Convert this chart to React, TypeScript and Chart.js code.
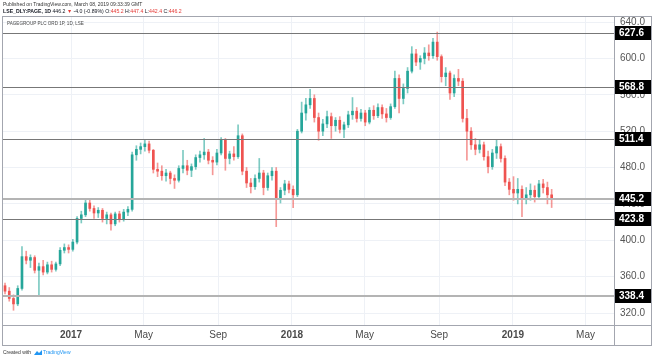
import React, { useEffect, useRef } from 'react';
import { Chart, registerables } from 'chart.js';

Chart.register(...registerables);

// ---- DATA ----
const firstWeek = '2016-09-12';
const opens: number[] = [
  350, 344, 336, 330, 347, 382, 378, 381, 367, 371, 365, 373, 368, 374, 389, 392, 390, 398, 424, 428,
  441, 435, 430, 433, 424, 428, 418, 429, 423, 431, 434, 494, 500, 503, 506, 499, 478, 476, 471, 474,
  468, 466, 479, 482, 477, 481, 491, 494, 497, 488, 486, 496, 510, 490, 495, 492, 515, 476, 463, 459,
  468, 474, 458, 471, 476, 445, 455, 462, 456, 450, 520, 540, 549, 556, 535, 520, 528, 536, 526, 532,
  522, 527, 538, 542, 534, 540, 530, 543, 537, 546, 539, 535, 547, 578, 556, 567, 586, 605, 596, 600,
  606, 603, 618, 602, 580, 584, 562, 578, 575, 534, 520, 505, 500, 505, 492, 481, 496, 503, 490, 464,
  456, 452, 456, 446, 450, 455, 448, 462, 458, 450,
];
const highs: number[] = [
  353, 348, 340, 350, 393, 388, 384, 383, 375, 378, 376, 377, 376, 392, 396, 395, 401, 426, 432, 445,
  444, 438, 436, 435, 431, 430, 431, 432, 434, 437, 497, 504, 507, 510, 509, 500, 485, 482, 478, 476,
  472, 482, 499, 488, 484, 494, 498, 512, 500, 492, 500, 513, 512, 498, 503, 527, 517, 480, 468, 472,
  490, 477, 474, 480, 480, 458, 466, 465, 460, 522, 552, 556, 566, 560, 540, 533, 542, 540, 535, 536,
  530, 542, 557, 546, 544, 543, 546, 548, 550, 549, 545, 550, 586, 582, 572, 590, 613, 610, 603, 612,
  615, 622, 629, 604, 590, 586, 582, 588, 578, 544, 524, 512, 510, 508, 498, 500, 510, 506, 493, 468,
  470, 468, 460, 458, 462, 460, 466, 467, 464, 456,
];
const lows: number[] = [
  341, 333, 323, 328, 345, 374, 370, 364, 340, 362, 363, 365, 366, 372, 386, 386, 388, 396, 419, 426,
  432, 424, 425, 420, 418, 411, 416, 420, 421, 427, 432, 488, 495, 498, 496, 474, 470, 466, 465, 462,
  457, 464, 474, 472, 470, 478, 486, 489, 484, 472, 483, 494, 477, 484, 488, 490, 472, 458, 452, 456,
  464, 450, 455, 466, 415, 441, 450, 452, 436, 448, 518, 532, 545, 530, 510, 515, 524, 512, 520, 518,
  513, 524, 533, 530, 531, 526, 528, 533, 535, 534, 530, 533, 545, 540, 550, 562, 584, 592, 588, 594,
  598, 600, 598, 574, 570, 555, 558, 570, 530, 488, 500, 494, 496, 488, 474, 478, 490, 486, 460, 450,
  444, 440, 426, 440, 444, 442, 446, 452, 440, 436,
];
const closes: number[] = [
  344, 336, 330, 347, 382, 378, 381, 367, 371, 365, 373, 368, 374, 389, 392, 390, 398, 424, 428, 441,
  435, 430, 433, 424, 428, 418, 429, 423, 431, 434, 494, 500, 503, 506, 499, 478, 476, 471, 474, 468,
  466, 479, 482, 477, 481, 491, 494, 497, 488, 486, 496, 510, 490, 495, 492, 515, 476, 463, 459, 468,
  474, 458, 471, 476, 445, 455, 462, 456, 450, 520, 540, 549, 556, 535, 520, 528, 536, 526, 532, 522,
  527, 538, 542, 534, 540, 530, 543, 537, 546, 539, 535, 547, 578, 556, 567, 586, 605, 596, 600, 606,
  603, 618, 602, 580, 584, 562, 578, 575, 534, 520, 505, 500, 505, 492, 481, 496, 503, 490, 464, 456,
  452, 456, 446, 450, 455, 448, 462, 458, 450, 446.2,
];
const priceLevels: number[] = [627.6, 568.8, 511.4, 445.2, 423.8, 338.4];
const levelStyles: string[] = ['dark', 'dark', 'dark', 'light', 'dark', 'light'];
const yTicks: number[] = [320, 360, 400, 440, 480, 520, 560, 600, 640];
const xTickDates: string[] = ['2017-01-01', '2017-05-01', '2017-09-01', '2018-01-01', '2018-05-01', '2018-09-01', '2019-01-01', '2019-05-01'];
const xTickLabels: string[] = ['2017', 'May', 'Sep', '2018', 'May', 'Sep', '2019', 'May'];

// ---- helpers ----
const BASE = Date.UTC(2017, 0, 1);
const dayOf = (s: string) => {
  const [y, m, d] = s.split('-').map(Number);
  return (Date.UTC(y, m - 1, d) - BASE) / 86400000;
};
const firstDay = dayOf(firstWeek);
const candleX = opens.map((_, i) => firstDay + i * 7 + 2);
const xTickDays = xTickDates.map(dayOf);

const GREEN = '#26a69a';
const RED = '#ef5350';
const FONT = "'Liberation Sans', Arial, sans-serif";

const framePlugin = {
  id: 'tvFrame',
  afterDatasetsDraw(chart: any) {
    const { ctx, chartArea, scales } = chart;
    const y = scales.y;
    ctx.save();
    priceLevels.forEach((v, i) => {
      const py = Math.round(y.getPixelForValue(v));
      if (levelStyles[i] === 'light') {
        ctx.strokeStyle = '#b4b4b4';
        ctx.lineWidth = 2;
        ctx.beginPath();
        ctx.moveTo(chartArea.left, py);
        ctx.lineTo(chartArea.right, py);
        ctx.stroke();
      } else {
        ctx.strokeStyle = '#777777';
        ctx.lineWidth = 1;
        ctx.beginPath();
        ctx.moveTo(chartArea.left, py + 0.5);
        ctx.lineTo(chartArea.right, py + 0.5);
        ctx.stroke();
      }
    });
    ctx.restore();
  },
  afterDraw(chart: any) {
    const { ctx, chartArea, scales } = chart;
    const y = scales.y;
    ctx.save();
    // frame
    ctx.strokeStyle = '#a3a6af';
    ctx.lineWidth = 1;
    const L = 2.5, T = 16.5, R = 651.5, B = 345.5;
    ctx.strokeRect(L, T, R - L, B - T);
    ctx.beginPath();
    ctx.moveTo(Math.round(chartArea.right) + 0.5, T);
    ctx.lineTo(Math.round(chartArea.right) + 0.5, B);
    ctx.moveTo(L, Math.round(chartArea.bottom) + 0.5);
    ctx.lineTo(R, Math.round(chartArea.bottom) + 0.5);
    ctx.stroke();

    // price label boxes
    priceLevels.forEach((v) => {
      const py = Math.round(y.getPixelForValue(v));
      ctx.fillStyle = '#000000';
      ctx.fillRect(Math.round(chartArea.right) + 1, py - 7, 36, 14);
      ctx.fillStyle = '#ffffff';
      ctx.font = `bold 10px ${FONT}`;
      ctx.textBaseline = 'middle';
      ctx.textAlign = 'left';
      ctx.fillText(v.toFixed(1), Math.round(chartArea.right) + 5, py + 0.5);
    });

    // header
    ctx.textBaseline = 'middle';
    ctx.textAlign = 'left';
    ctx.fillStyle = '#333333';
    ctx.font = `5px ${FONT}`;
    ctx.fillText('Published on TradingView.com, March 08, 2019 09:33:39 GMT', 3, 5);

    const segs: [string, string, boolean][] = [
      ['LSE_DLY:PAGE, 1D ', '#131722', true],
      ['446.2 ', '#131722', false],
      ['\u25BC', '#e53935', false],
      [' -4.0 (-0.89%) O:', '#131722', false],
      ['445.2', '#e53935', false],
      [' H:', '#131722', false],
      ['447.4', '#e53935', false],
      [' L:', '#131722', false],
      ['442.4', '#e53935', false],
      [' C:', '#131722', false],
      ['446.2', '#e53935', false],
    ];
    let cx = 3;
    segs.forEach(([t, c, b]) => {
      ctx.font = `${b ? 'bold ' : ''}5.2px ${FONT}`;
      ctx.fillStyle = c;
      ctx.fillText(t, cx, 12);
      cx += ctx.measureText(t).width;
    });

    ctx.fillStyle = '#4a4a4a';
    ctx.font = `4.6px ${FONT}`;
    ctx.fillText('PAGEGROUP PLC ORD 1P, 1D, LSE', 7, 24);

    // footer
    ctx.fillStyle = '#333333';
    ctx.font = `5px ${FONT}`;
    ctx.fillText('Created with', 3, 353);
    ctx.fillStyle = '#2196f3';
    ctx.beginPath();
    ctx.moveTo(34, 355);
    ctx.lineTo(37, 351);
    ctx.lineTo(39, 353);
    ctx.lineTo(42, 350);
    ctx.lineTo(42, 355);
    ctx.closePath();
    ctx.fill();
    ctx.fillText('TradingView', 43, 353);
    ctx.restore();
  },
};

export default function App() {
  const ref = useRef<HTMLCanvasElement | null>(null);
  useEffect(() => {
    document.body.style.margin = '0';
    const canvas = ref.current;
    if (!canvas) return;
    const up = closes.map((c, i) => c >= opens[i]);
    const chart = new Chart(canvas, {
      type: 'bar',
      data: {
        datasets: [
          {
            label: 'wick',
            data: candleX.map((x, i) => ({ x, y: [lows[i], highs[i]] })) as any,
            backgroundColor: up.map((u) => (u ? 'rgba(38,166,154,0.6)' : 'rgba(239,83,80,0.6)')),
            barThickness: 1,
            grouped: false,
            order: 2,
          } as any,
          {
            label: 'body',
            data: candleX.map((x, i) => ({ x, y: [opens[i], closes[i]] })) as any,
            backgroundColor: up.map((u) => (u ? GREEN : RED)),
            barThickness: 2,
            minBarLength: 1,
            grouped: false,
            order: 1,
          } as any,
        ],
      },
      options: {
        animation: false,
        responsive: false,
        maintainAspectRatio: false,
        layout: { padding: { left: 2, top: 16, right: 2, bottom: 15 } },
        plugins: { legend: { display: false }, tooltip: { enabled: false } },
        scales: {
          x: {
            type: 'linear',
            position: 'bottom',
            offset: false,
            min: -114,
            max: 897,
            grid: { color: '#eef1f6', drawTicks: false, offset: false },
            border: { display: false },
            afterBuildTicks: (s: any) => {
              s.ticks = xTickDays.map((v) => ({ value: v }));
            },
            afterFit: (s: any) => {
              s.height = 20;
              s.paddingLeft = 0;
              s.paddingRight = 0;
            },
            ticks: {
              autoSkip: false,
              maxRotation: 0,
              padding: 4,
              color: '#4a4a4a',
              callback: (v: any) => {
                const i = xTickDays.indexOf(Number(v));
                return i >= 0 ? xTickLabels[i] : '';
              },
              font: (ctx: any) => ({
                family: FONT,
                size: 10,
                weight: /^\d{4}$/.test(xTickLabels[ctx.index] || '') ? 'bold' : 'normal',
              }),
            },
          },
          y: {
            type: 'linear',
            position: 'right',
            min: 306.8,
            max: 646.7,
            grid: { color: '#eef1f6', drawTicks: false },
            border: { display: false },
            afterBuildTicks: (s: any) => {
              s.ticks = yTicks.map((v) => ({ value: v }));
            },
            afterFit: (s: any) => {
              s.width = 37;
            },
            ticks: {
              padding: 6,
              color: '#555555',
              font: { family: FONT, size: 10 },
              callback: (v: any) => Number(v).toFixed(1),
            },
          },
        },
      } as any,
      plugins: [framePlugin],
    });
    return () => chart.destroy();
  }, []);
  return (
    <div style={{ width: 653, height: 360 }}>
      <canvas ref={ref} width={653} height={360} style={{ display: 'block' }} />
    </div>
  );
}
